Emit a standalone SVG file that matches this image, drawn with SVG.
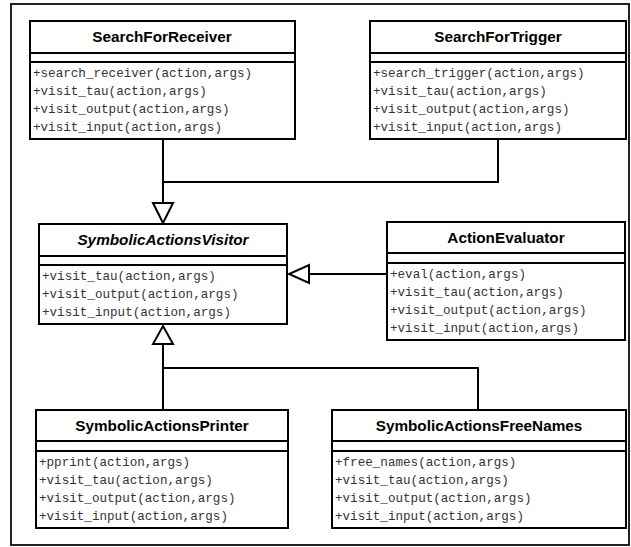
<svg xmlns="http://www.w3.org/2000/svg" width="631" height="547" viewBox="0 0 631 547">
  <style>
    .box { fill: #ffffff; stroke: #000000; stroke-width: 2; }
    .sep { stroke: #000000; stroke-width: 2; }
    .title { font-family: "Liberation Sans", Arial, sans-serif; font-weight: bold; font-size: 15.3px; fill: #000000; text-anchor: middle; }
    .italic { font-style: italic; }
    .op { font-family: "Liberation Mono", "Courier New", monospace; font-size: 12.6px; fill: #333333; }
    .wire { fill: none; stroke: #000000; stroke-width: 2; }
    .head { fill: #ffffff; stroke: #000000; stroke-width: 2; }
    .frame { fill: #ffffff; stroke: #222222; stroke-width: 2; }
  </style>

  <rect class="frame" x="11" y="4" width="618" height="541"/>

  <!-- generalization connectors -->
  <g id="connectors">
    <polyline class="wire" points="163,139 163,203"/>
    <polyline class="wire" points="498,139 498,182 163,182"/>
    <polygon class="head" points="153,203 173,203 163,223"/>
    <polyline class="wire" points="387,274 309,274"/>
    <polygon class="head" points="309,265 309,283 289,274"/>
    <polyline class="wire" points="163,410 163,344"/>
    <polyline class="wire" points="478,410 478,368 163,368"/>
    <polygon class="head" points="153,344 173,344 163,326"/>
  </g>

  <g id="SearchForReceiver">
    <rect class="box" x="30" y="21" width="265" height="118"/>
    <line class="sep" x1="30" y1="53" x2="295" y2="53"/>
    <line class="sep" x1="30" y1="62" x2="295" y2="62"/>
    <text class="title" x="162" y="42">SearchForReceiver</text>
    <text class="op" x="33" y="77">+search_receiver(action,args)</text>
    <text class="op" x="33" y="95">+visit_tau(action,args)</text>
    <text class="op" x="33" y="113">+visit_output(action,args)</text>
    <text class="op" x="33" y="131">+visit_input(action,args)</text>
  </g>

  <g id="SearchForTrigger">
    <rect class="box" x="370" y="21" width="256" height="118"/>
    <line class="sep" x1="370" y1="53" x2="626" y2="53"/>
    <line class="sep" x1="370" y1="62" x2="626" y2="62"/>
    <text class="title" x="498" y="42">SearchForTrigger</text>
    <text class="op" x="373" y="77">+search_trigger(action,args)</text>
    <text class="op" x="373" y="95">+visit_tau(action,args)</text>
    <text class="op" x="373" y="113">+visit_output(action,args)</text>
    <text class="op" x="373" y="131">+visit_input(action,args)</text>
  </g>

  <g id="SymbolicActionsVisitor">
    <rect class="box" x="39" y="224" width="248" height="100"/>
    <line class="sep" x1="39" y1="256" x2="287" y2="256"/>
    <line class="sep" x1="39" y1="265" x2="287" y2="265"/>
    <text class="title italic" x="163" y="245">SymbolicActionsVisitor</text>
    <text class="op" x="42" y="280">+visit_tau(action,args)</text>
    <text class="op" x="42" y="298">+visit_output(action,args)</text>
    <text class="op" x="42" y="316">+visit_input(action,args)</text>
  </g>

  <g id="ActionEvaluator">
    <rect class="box" x="387" y="222" width="238" height="118"/>
    <line class="sep" x1="387" y1="253" x2="625" y2="253"/>
    <line class="sep" x1="387" y1="263" x2="625" y2="263"/>
    <text class="title" x="506" y="243">ActionEvaluator</text>
    <text class="op" x="390" y="278">+eval(action,args)</text>
    <text class="op" x="390" y="296">+visit_tau(action,args)</text>
    <text class="op" x="390" y="314">+visit_output(action,args)</text>
    <text class="op" x="390" y="332">+visit_input(action,args)</text>
  </g>

  <g id="SymbolicActionsPrinter">
    <rect class="box" x="36" y="410" width="252" height="118"/>
    <line class="sep" x1="36" y1="441" x2="288" y2="441"/>
    <line class="sep" x1="36" y1="451" x2="288" y2="451"/>
    <text class="title" x="162" y="431">SymbolicActionsPrinter</text>
    <text class="op" x="39" y="466">+pprint(action,args)</text>
    <text class="op" x="39" y="484">+visit_tau(action,args)</text>
    <text class="op" x="39" y="502">+visit_output(action,args)</text>
    <text class="op" x="39" y="520">+visit_input(action,args)</text>
  </g>

  <g id="SymbolicActionsFreeNames">
    <rect class="box" x="332" y="410" width="294" height="118"/>
    <line class="sep" x1="332" y1="441" x2="626" y2="441"/>
    <line class="sep" x1="332" y1="451" x2="626" y2="451"/>
    <text class="title" x="479" y="431">SymbolicActionsFreeNames</text>
    <text class="op" x="335" y="466">+free_names(action,args)</text>
    <text class="op" x="335" y="484">+visit_tau(action,args)</text>
    <text class="op" x="335" y="502">+visit_output(action,args)</text>
    <text class="op" x="335" y="520">+visit_input(action,args)</text>
  </g>
</svg>
